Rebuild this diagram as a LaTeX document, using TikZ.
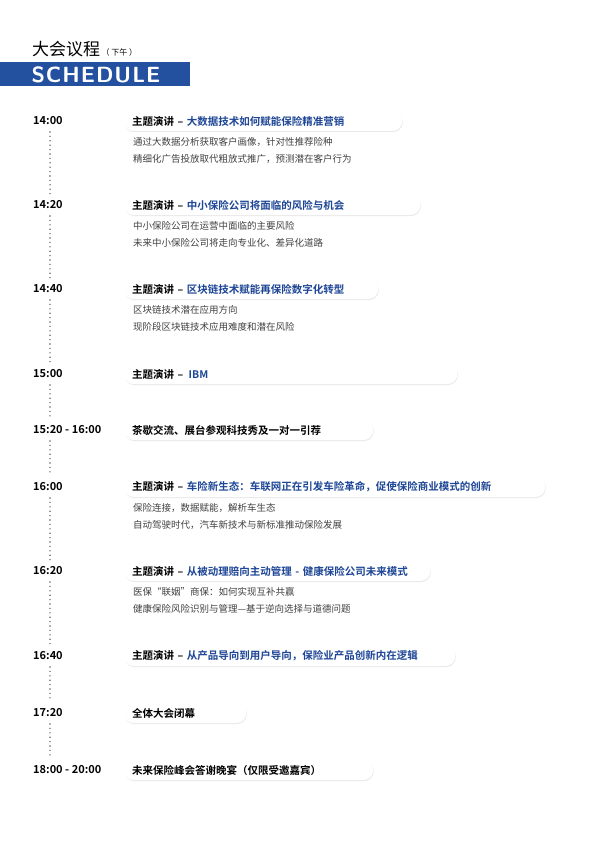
\documentclass[tikz,border=0pt]{standalone}
\usepackage{fontspec}
\setmainfont{Noto Sans CJK SC}[BoldFont={* Bold}]
\usetikzlibrary{positioning,shadows}
\definecolor{schedblue}{RGB}{36,80,160}
\definecolor{titleblue}{RGB}{30,70,150}
\tikzset{
  timelbl/.style={font=\bfseries\fontsize{11}{13}\selectfont, anchor=west, inner sep=0pt},
  talkpill/.style={anchor=west, fill=white, rounded corners=9.5pt, minimum height=20pt,
    inner xsep=8pt, text width=#1, align=left,
    drop shadow={shadow xshift=0.5pt, shadow yshift=-1pt, opacity=0.18},
    font=\bfseries\fontsize{10.5}{12}\selectfont},
  notes/.style={anchor=north west, align=left, inner sep=0pt, text=black!75,
    font=\fontsize{9.5}{17}\selectfont},
  dotline/.style={black!60, line width=1.6pt, line cap=round, dash pattern=on 0pt off 4.4pt}
}
\newcommand{\blu}[1]{\textcolor{titleblue}{#1}}
\begin{document}
\begin{tikzpicture}[x=1pt,y=-1pt]
		\useasboundingbox (0,0) rectangle (600,848);
		% header
		\node[anchor=base west, inner sep=0pt, font=\fontsize{17}{20}\selectfont] (hd) at (32,56) {大会议程};
		\node[anchor=base west, inner sep=1pt, font=\fontsize{8}{10}\selectfont] (pm) at (hd.base east) {（ 下午 ）};
		\fill[schedblue] (0,62) rectangle (190,86);
		\node[anchor=west, text=white, font=\sffamily\bfseries\fontsize{22}{24}\selectfont] (sch) at (28,74.5) {S\kern1pt C\kern1pt H\kern1pt E\kern1pt D\kern1pt U\kern1pt L\kern1pt E};

		% times
		\path
		(33,121) node[timelbl] (t1) {14:00}
		(33,205) node[timelbl] (t2) {14:20}
		(33,289) node[timelbl] (t3) {14:40}
		(33,374) node[timelbl] (t4) {15:00}
		(33,430) node[timelbl] (t5) {15:20 - 16:00}
		(33,487) node[timelbl] (t6) {16:00}
		(33,571) node[timelbl] (t7) {16:20}
		(33,656) node[timelbl] (t8) {16:40}
		(33,713) node[timelbl] (t9) {17:20}
		(33,770) node[timelbl] (t10) {18:00 - 20:00};

		% dotted timeline
		\draw[dotline] (50,132) -- (50,194);
		\draw[dotline] (50,216) -- (50,278);
		\draw[dotline] (50,300) -- (50,363);
		\draw[dotline] (50,385) -- (50,419);
		\draw[dotline] (50,441) -- (50,476);
		\draw[dotline] (50,498) -- (50,560);
		\draw[dotline] (50,582) -- (50,645);
		\draw[dotline] (50,667) -- (50,702);
		\draw[dotline] (50,724) -- (50,759);

		% talks
		\node[talkpill=262pt] (p1) at (124,121) {主题演讲 – \blu{大数据技术如何赋能保险精准营销}};
		\node[notes] (n1) at (133,137) {通过大数据分析获取客户画像，针对性推荐险种\\精细化广告投放取代粗放式推广，预测潜在客户行为};
		\node[talkpill=280pt] (p2) at (124,205) {主题演讲 – \blu{中小保险公司将面临的风险与机会}};
		\node[notes] (n2) at (133,221) {中小保险公司在运营中面临的主要风险\\未来中小保险公司将走向专业化、差异化道路};
		\node[talkpill=238pt] (p3) at (124,289) {主题演讲 – \blu{区块链技术赋能再保险数字化转型}};
		\node[notes] (n3) at (133,305) {区块链技术潜在应用方向\\现阶段区块链技术应用难度和潜在风险};
		\node[talkpill=317pt] (p4) at (124,374) {主题演讲 – \,\blu{IBM}};
		\node[talkpill=233pt] (p5) at (124,430) {茶歇交流、展台参观科技秀及一对一引荐};
		\node[talkpill=405pt] (p6) at (124,487) {主题演讲 – \blu{车险新生态：车联网正在引发车险革命，促使保险商业模式的创新}};
		\node[notes] (n6) at (133,503) {保险连接，数据赋能，解析车生态\\自动驾驶时代，汽车新技术与新标准推动保险发展};
		\node[talkpill=290pt] (p7) at (124,571) {主题演讲 – \blu{从被动理赔向主动管理 - 健康保险公司未来模式}};
		\node[notes] (n7) at (133,587) {医保“联姻”商保：如何实现互补共赢\\健康保险风险识别与管理—基于逆向选择与道德问题};
		\node[talkpill=315pt] (p8) at (124,656) {主题演讲 – \blu{从产品导向到用户导向，保险业产品创新内在逻辑}};
		\node[talkpill=106pt] (p9) at (124,713) {全体大会闭幕};
		\node[talkpill=233pt] (p10) at (124,770) {未来保险峰会答谢晚宴（仅限受邀嘉宾）};
	\end{tikzpicture}
\end{document}
